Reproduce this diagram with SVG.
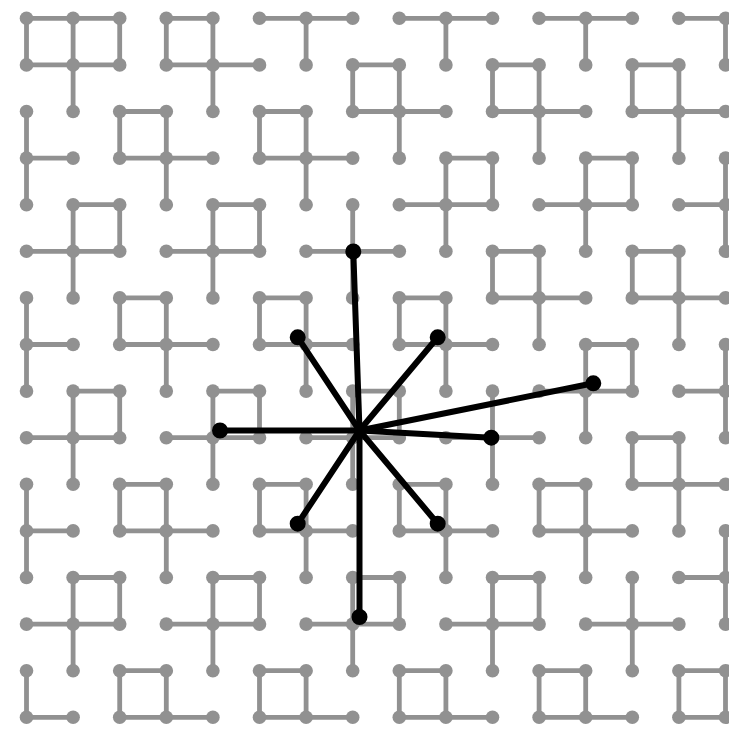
<svg xmlns="http://www.w3.org/2000/svg" width="729" height="732" viewBox="0 0 729 732">
<style>
.e{fill:none;stroke:#919191;stroke-width:4.8;stroke-linecap:round}
.n circle{fill:#919191}
.se{fill:none;stroke:#000;stroke-width:6;stroke-linecap:round}
.sn circle{fill:none;stroke:#000;stroke-width:6}
</style>
<rect width="729" height="732" fill="#fff"/>
<g id="connectors">
<path class="e" d="M26.5 18.3H119.7M166.3 18.3H212.9M259.5 18.3H352.7M399.3 18.3H492.5M539.1 18.3H632.3M678.9 18.3H725.5"/>
<path class="e" d="M26.5 64.9H119.7M166.3 64.9H259.5M352.7 64.9H399.3M492.5 64.9H539.1M632.3 64.9H678.9"/>
<path class="e" d="M119.7 111.5H166.3M259.5 111.5H306.1M352.7 111.5H445.9M492.5 111.5H585.7M632.3 111.5H725.5"/>
<path class="e" d="M26.5 158.1H73.1M119.7 158.1H212.9M259.5 158.1H352.7M445.9 158.1H492.5M585.7 158.1H632.3"/>
<path class="e" d="M73.1 204.7H119.7M212.9 204.7H259.5M399.3 204.7H492.5M539.1 204.7H632.3M678.9 204.7H725.5"/>
<path class="e" d="M26.5 251.3H119.7M166.3 251.3H259.5M306.1 251.3H399.3M492.5 251.3H539.1M632.3 251.3H678.9"/>
<path class="e" d="M119.7 297.9H166.3M259.5 297.9H306.1M399.3 297.9H445.9M492.5 297.9H585.7M632.3 297.9H725.5"/>
<path class="e" d="M26.5 344.5H73.1M119.7 344.5H212.9M259.5 344.5H352.7M399.3 344.5H492.5M585.7 344.5H632.3"/>
<path class="e" d="M73.1 391.1H119.7M212.9 391.1H259.5M352.7 391.1H399.3M539.1 391.1H632.3M678.9 391.1H725.5"/>
<path class="e" d="M26.5 437.7H119.7M166.3 437.7H259.5M306.1 437.7H399.3M445.9 437.7H539.1M632.3 437.7H678.9"/>
<path class="e" d="M119.7 484.3H166.3M259.5 484.3H306.1M399.3 484.3H445.9M539.1 484.3H585.7M632.3 484.3H725.5"/>
<path class="e" d="M26.5 530.9H73.1M119.7 530.9H212.9M259.5 530.9H352.7M399.3 530.9H492.5M539.1 530.9H632.3"/>
<path class="e" d="M73.1 577.5H119.7M212.9 577.5H259.5M352.7 577.5H399.3M492.5 577.5H539.1M678.9 577.5H725.5"/>
<path class="e" d="M26.5 624.1H119.7M166.3 624.1H259.5M306.1 624.1H399.3M445.9 624.1H539.1M585.7 624.1H678.9"/>
<path class="e" d="M119.7 670.7H166.3M259.5 670.7H306.1M399.3 670.7H445.9M539.1 670.7H585.7M678.9 670.7H725.5"/>
<path class="e" d="M26.5 717.3H73.1M119.7 717.3H212.9M259.5 717.3H352.7M399.3 717.3H492.5M539.1 717.3H632.3M678.9 717.3H725.5"/>
<path class="e" d="M26.5 18.3V64.9M26.5 111.5V204.7M26.5 297.9V391.1M26.5 484.3V577.5M26.5 670.7V717.3"/>
<path class="e" d="M73.1 18.3V111.5M73.1 204.7V297.9M73.1 391.1V484.3M73.1 577.5V670.7"/>
<path class="e" d="M119.7 18.3V64.9M119.7 111.5V158.1M119.7 204.7V251.3M119.7 297.9V344.5M119.7 391.1V437.7M119.7 484.3V530.9M119.7 577.5V624.1M119.7 670.7V717.3"/>
<path class="e" d="M166.3 18.3V64.9M166.3 111.5V204.7M166.3 297.9V391.1M166.3 484.3V577.5M166.3 670.7V717.3"/>
<path class="e" d="M212.9 18.3V111.5M212.9 204.7V297.9M212.9 391.1V484.3M212.9 577.5V670.7"/>
<path class="e" d="M259.5 111.5V158.1M259.5 204.7V251.3M259.5 297.9V344.5M259.5 391.1V437.7M259.5 484.3V530.9M259.5 577.5V624.1M259.5 670.7V717.3"/>
<path class="e" d="M306.1 18.3V64.9M306.1 111.5V204.7M306.1 297.9V391.1M306.1 484.3V577.5M306.1 670.7V717.3"/>
<path class="e" d="M352.7 64.9V111.5M352.7 204.7V297.9M352.7 391.1V484.3M352.7 577.5V670.7"/>
<path class="e" d="M399.3 64.9V158.1M399.3 297.9V344.5M399.3 391.1V437.7M399.3 484.3V530.9M399.3 577.5V624.1M399.3 670.7V717.3"/>
<path class="e" d="M445.9 18.3V64.9M445.9 158.1V251.3M445.9 297.9V391.1M445.9 484.3V577.5M445.9 670.7V717.3"/>
<path class="e" d="M492.5 64.9V111.5M492.5 158.1V204.7M492.5 251.3V297.9M492.5 391.1V484.3M492.5 577.5V670.7"/>
<path class="e" d="M539.1 64.9V158.1M539.1 251.3V344.5M539.1 484.3V530.9M539.1 577.5V624.1M539.1 670.7V717.3"/>
<path class="e" d="M585.7 18.3V64.9M585.7 158.1V251.3M585.7 344.5V437.7M585.7 484.3V577.5M585.7 670.7V717.3"/>
<path class="e" d="M632.3 64.9V111.5M632.3 158.1V204.7M632.3 251.3V297.9M632.3 344.5V391.1M632.3 437.7V484.3M632.3 577.5V670.7"/>
<path class="e" d="M678.9 64.9V158.1M678.9 251.3V344.5M678.9 437.7V530.9M678.9 670.7V717.3"/>
<path class="e" d="M725.5 18.3V64.9M725.5 158.1V251.3M725.5 344.5V437.7M725.5 530.9V624.1M725.5 670.7V717.3"/>
</g>
<g id="nodes" class="n">
<g id="n0_0"><circle cx="26.5" cy="18.3" r="6.8"/></g><g id="n1_0"><circle cx="73.1" cy="18.3" r="6.8"/></g><g id="n2_0"><circle cx="119.7" cy="18.3" r="6.8"/></g><g id="n3_0"><circle cx="166.3" cy="18.3" r="6.8"/></g><g id="n4_0"><circle cx="212.9" cy="18.3" r="6.8"/></g><g id="n5_0"><circle cx="259.5" cy="18.3" r="6.8"/></g><g id="n6_0"><circle cx="306.1" cy="18.3" r="6.8"/></g><g id="n7_0"><circle cx="352.7" cy="18.3" r="6.8"/></g><g id="n8_0"><circle cx="399.3" cy="18.3" r="6.8"/></g><g id="n9_0"><circle cx="445.9" cy="18.3" r="6.8"/></g><g id="n10_0"><circle cx="492.5" cy="18.3" r="6.8"/></g><g id="n11_0"><circle cx="539.1" cy="18.3" r="6.8"/></g><g id="n12_0"><circle cx="585.7" cy="18.3" r="6.8"/></g><g id="n13_0"><circle cx="632.3" cy="18.3" r="6.8"/></g><g id="n14_0"><circle cx="678.9" cy="18.3" r="6.8"/></g><g id="n15_0"><circle cx="725.5" cy="18.3" r="6.8"/></g>
<g id="n0_1"><circle cx="26.5" cy="64.9" r="6.8"/></g><g id="n1_1"><circle cx="73.1" cy="64.9" r="6.8"/></g><g id="n2_1"><circle cx="119.7" cy="64.9" r="6.8"/></g><g id="n3_1"><circle cx="166.3" cy="64.9" r="6.8"/></g><g id="n4_1"><circle cx="212.9" cy="64.9" r="6.8"/></g><g id="n5_1"><circle cx="259.5" cy="64.9" r="6.8"/></g><g id="n6_1"><circle cx="306.1" cy="64.9" r="6.8"/></g><g id="n7_1"><circle cx="352.7" cy="64.9" r="6.8"/></g><g id="n8_1"><circle cx="399.3" cy="64.9" r="6.8"/></g><g id="n9_1"><circle cx="445.9" cy="64.9" r="6.8"/></g><g id="n10_1"><circle cx="492.5" cy="64.9" r="6.8"/></g><g id="n11_1"><circle cx="539.1" cy="64.9" r="6.8"/></g><g id="n12_1"><circle cx="585.7" cy="64.9" r="6.8"/></g><g id="n13_1"><circle cx="632.3" cy="64.9" r="6.8"/></g><g id="n14_1"><circle cx="678.9" cy="64.9" r="6.8"/></g><g id="n15_1"><circle cx="725.5" cy="64.9" r="6.8"/></g>
<g id="n0_2"><circle cx="26.5" cy="111.5" r="6.8"/></g><g id="n1_2"><circle cx="73.1" cy="111.5" r="6.8"/></g><g id="n2_2"><circle cx="119.7" cy="111.5" r="6.8"/></g><g id="n3_2"><circle cx="166.3" cy="111.5" r="6.8"/></g><g id="n4_2"><circle cx="212.9" cy="111.5" r="6.8"/></g><g id="n5_2"><circle cx="259.5" cy="111.5" r="6.8"/></g><g id="n6_2"><circle cx="306.1" cy="111.5" r="6.8"/></g><g id="n7_2"><circle cx="352.7" cy="111.5" r="6.8"/></g><g id="n8_2"><circle cx="399.3" cy="111.5" r="6.8"/></g><g id="n9_2"><circle cx="445.9" cy="111.5" r="6.8"/></g><g id="n10_2"><circle cx="492.5" cy="111.5" r="6.8"/></g><g id="n11_2"><circle cx="539.1" cy="111.5" r="6.8"/></g><g id="n12_2"><circle cx="585.7" cy="111.5" r="6.8"/></g><g id="n13_2"><circle cx="632.3" cy="111.5" r="6.8"/></g><g id="n14_2"><circle cx="678.9" cy="111.5" r="6.8"/></g><g id="n15_2"><circle cx="725.5" cy="111.5" r="6.8"/></g>
<g id="n0_3"><circle cx="26.5" cy="158.1" r="6.8"/></g><g id="n1_3"><circle cx="73.1" cy="158.1" r="6.8"/></g><g id="n2_3"><circle cx="119.7" cy="158.1" r="6.8"/></g><g id="n3_3"><circle cx="166.3" cy="158.1" r="6.8"/></g><g id="n4_3"><circle cx="212.9" cy="158.1" r="6.8"/></g><g id="n5_3"><circle cx="259.5" cy="158.1" r="6.8"/></g><g id="n6_3"><circle cx="306.1" cy="158.1" r="6.8"/></g><g id="n7_3"><circle cx="352.7" cy="158.1" r="6.8"/></g><g id="n8_3"><circle cx="399.3" cy="158.1" r="6.8"/></g><g id="n9_3"><circle cx="445.9" cy="158.1" r="6.8"/></g><g id="n10_3"><circle cx="492.5" cy="158.1" r="6.8"/></g><g id="n11_3"><circle cx="539.1" cy="158.1" r="6.8"/></g><g id="n12_3"><circle cx="585.7" cy="158.1" r="6.8"/></g><g id="n13_3"><circle cx="632.3" cy="158.1" r="6.8"/></g><g id="n14_3"><circle cx="678.9" cy="158.1" r="6.8"/></g><g id="n15_3"><circle cx="725.5" cy="158.1" r="6.8"/></g>
<g id="n0_4"><circle cx="26.5" cy="204.7" r="6.8"/></g><g id="n1_4"><circle cx="73.1" cy="204.7" r="6.8"/></g><g id="n2_4"><circle cx="119.7" cy="204.7" r="6.8"/></g><g id="n3_4"><circle cx="166.3" cy="204.7" r="6.8"/></g><g id="n4_4"><circle cx="212.9" cy="204.7" r="6.8"/></g><g id="n5_4"><circle cx="259.5" cy="204.7" r="6.8"/></g><g id="n6_4"><circle cx="306.1" cy="204.7" r="6.8"/></g><g id="n7_4"><circle cx="352.7" cy="204.7" r="6.8"/></g><g id="n8_4"><circle cx="399.3" cy="204.7" r="6.8"/></g><g id="n9_4"><circle cx="445.9" cy="204.7" r="6.8"/></g><g id="n10_4"><circle cx="492.5" cy="204.7" r="6.8"/></g><g id="n11_4"><circle cx="539.1" cy="204.7" r="6.8"/></g><g id="n12_4"><circle cx="585.7" cy="204.7" r="6.8"/></g><g id="n13_4"><circle cx="632.3" cy="204.7" r="6.8"/></g><g id="n14_4"><circle cx="678.9" cy="204.7" r="6.8"/></g><g id="n15_4"><circle cx="725.5" cy="204.7" r="6.8"/></g>
<g id="n0_5"><circle cx="26.5" cy="251.3" r="6.8"/></g><g id="n1_5"><circle cx="73.1" cy="251.3" r="6.8"/></g><g id="n2_5"><circle cx="119.7" cy="251.3" r="6.8"/></g><g id="n3_5"><circle cx="166.3" cy="251.3" r="6.8"/></g><g id="n4_5"><circle cx="212.9" cy="251.3" r="6.8"/></g><g id="n5_5"><circle cx="259.5" cy="251.3" r="6.8"/></g><g id="n6_5"><circle cx="306.1" cy="251.3" r="6.8"/></g><g id="n7_5"><circle cx="352.7" cy="251.3" r="6.8"/></g><g id="n8_5"><circle cx="399.3" cy="251.3" r="6.8"/></g><g id="n9_5"><circle cx="445.9" cy="251.3" r="6.8"/></g><g id="n10_5"><circle cx="492.5" cy="251.3" r="6.8"/></g><g id="n11_5"><circle cx="539.1" cy="251.3" r="6.8"/></g><g id="n12_5"><circle cx="585.7" cy="251.3" r="6.8"/></g><g id="n13_5"><circle cx="632.3" cy="251.3" r="6.8"/></g><g id="n14_5"><circle cx="678.9" cy="251.3" r="6.8"/></g><g id="n15_5"><circle cx="725.5" cy="251.3" r="6.8"/></g>
<g id="n0_6"><circle cx="26.5" cy="297.9" r="6.8"/></g><g id="n1_6"><circle cx="73.1" cy="297.9" r="6.8"/></g><g id="n2_6"><circle cx="119.7" cy="297.9" r="6.8"/></g><g id="n3_6"><circle cx="166.3" cy="297.9" r="6.8"/></g><g id="n4_6"><circle cx="212.9" cy="297.9" r="6.8"/></g><g id="n5_6"><circle cx="259.5" cy="297.9" r="6.8"/></g><g id="n6_6"><circle cx="306.1" cy="297.9" r="6.8"/></g><g id="n7_6"><circle cx="352.7" cy="297.9" r="6.8"/></g><g id="n8_6"><circle cx="399.3" cy="297.9" r="6.8"/></g><g id="n9_6"><circle cx="445.9" cy="297.9" r="6.8"/></g><g id="n10_6"><circle cx="492.5" cy="297.9" r="6.8"/></g><g id="n11_6"><circle cx="539.1" cy="297.9" r="6.8"/></g><g id="n12_6"><circle cx="585.7" cy="297.9" r="6.8"/></g><g id="n13_6"><circle cx="632.3" cy="297.9" r="6.8"/></g><g id="n14_6"><circle cx="678.9" cy="297.9" r="6.8"/></g><g id="n15_6"><circle cx="725.5" cy="297.9" r="6.8"/></g>
<g id="n0_7"><circle cx="26.5" cy="344.5" r="6.8"/></g><g id="n1_7"><circle cx="73.1" cy="344.5" r="6.8"/></g><g id="n2_7"><circle cx="119.7" cy="344.5" r="6.8"/></g><g id="n3_7"><circle cx="166.3" cy="344.5" r="6.8"/></g><g id="n4_7"><circle cx="212.9" cy="344.5" r="6.8"/></g><g id="n5_7"><circle cx="259.5" cy="344.5" r="6.8"/></g><g id="n6_7"><circle cx="306.1" cy="344.5" r="6.8"/></g><g id="n7_7"><circle cx="352.7" cy="344.5" r="6.8"/></g><g id="n8_7"><circle cx="399.3" cy="344.5" r="6.8"/></g><g id="n9_7"><circle cx="445.9" cy="344.5" r="6.8"/></g><g id="n10_7"><circle cx="492.5" cy="344.5" r="6.8"/></g><g id="n11_7"><circle cx="539.1" cy="344.5" r="6.8"/></g><g id="n12_7"><circle cx="585.7" cy="344.5" r="6.8"/></g><g id="n13_7"><circle cx="632.3" cy="344.5" r="6.8"/></g><g id="n14_7"><circle cx="678.9" cy="344.5" r="6.8"/></g><g id="n15_7"><circle cx="725.5" cy="344.5" r="6.8"/></g>
<g id="n0_8"><circle cx="26.5" cy="391.1" r="6.8"/></g><g id="n1_8"><circle cx="73.1" cy="391.1" r="6.8"/></g><g id="n2_8"><circle cx="119.7" cy="391.1" r="6.8"/></g><g id="n3_8"><circle cx="166.3" cy="391.1" r="6.8"/></g><g id="n4_8"><circle cx="212.9" cy="391.1" r="6.8"/></g><g id="n5_8"><circle cx="259.5" cy="391.1" r="6.8"/></g><g id="n6_8"><circle cx="306.1" cy="391.1" r="6.8"/></g><g id="n7_8"><circle cx="352.7" cy="391.1" r="6.8"/></g><g id="n8_8"><circle cx="399.3" cy="391.1" r="6.8"/></g><g id="n9_8"><circle cx="445.9" cy="391.1" r="6.8"/></g><g id="n10_8"><circle cx="492.5" cy="391.1" r="6.8"/></g><g id="n11_8"><circle cx="539.1" cy="391.1" r="6.8"/></g><g id="n12_8"><circle cx="585.7" cy="391.1" r="6.8"/></g><g id="n13_8"><circle cx="632.3" cy="391.1" r="6.8"/></g><g id="n14_8"><circle cx="678.9" cy="391.1" r="6.8"/></g><g id="n15_8"><circle cx="725.5" cy="391.1" r="6.8"/></g>
<g id="n0_9"><circle cx="26.5" cy="437.7" r="6.8"/></g><g id="n1_9"><circle cx="73.1" cy="437.7" r="6.8"/></g><g id="n2_9"><circle cx="119.7" cy="437.7" r="6.8"/></g><g id="n3_9"><circle cx="166.3" cy="437.7" r="6.8"/></g><g id="n4_9"><circle cx="212.9" cy="437.7" r="6.8"/></g><g id="n5_9"><circle cx="259.5" cy="437.7" r="6.8"/></g><g id="n6_9"><circle cx="306.1" cy="437.7" r="6.8"/></g><g id="n7_9"><circle cx="352.7" cy="437.7" r="6.8"/></g><g id="n8_9"><circle cx="399.3" cy="437.7" r="6.8"/></g><g id="n9_9"><circle cx="445.9" cy="437.7" r="6.8"/></g><g id="n10_9"><circle cx="492.5" cy="437.7" r="6.8"/></g><g id="n11_9"><circle cx="539.1" cy="437.7" r="6.8"/></g><g id="n12_9"><circle cx="585.7" cy="437.7" r="6.8"/></g><g id="n13_9"><circle cx="632.3" cy="437.7" r="6.8"/></g><g id="n14_9"><circle cx="678.9" cy="437.7" r="6.8"/></g><g id="n15_9"><circle cx="725.5" cy="437.7" r="6.8"/></g>
<g id="n0_10"><circle cx="26.5" cy="484.3" r="6.8"/></g><g id="n1_10"><circle cx="73.1" cy="484.3" r="6.8"/></g><g id="n2_10"><circle cx="119.7" cy="484.3" r="6.8"/></g><g id="n3_10"><circle cx="166.3" cy="484.3" r="6.8"/></g><g id="n4_10"><circle cx="212.9" cy="484.3" r="6.8"/></g><g id="n5_10"><circle cx="259.5" cy="484.3" r="6.8"/></g><g id="n6_10"><circle cx="306.1" cy="484.3" r="6.8"/></g><g id="n7_10"><circle cx="352.7" cy="484.3" r="6.8"/></g><g id="n8_10"><circle cx="399.3" cy="484.3" r="6.8"/></g><g id="n9_10"><circle cx="445.9" cy="484.3" r="6.8"/></g><g id="n10_10"><circle cx="492.5" cy="484.3" r="6.8"/></g><g id="n11_10"><circle cx="539.1" cy="484.3" r="6.8"/></g><g id="n12_10"><circle cx="585.7" cy="484.3" r="6.8"/></g><g id="n13_10"><circle cx="632.3" cy="484.3" r="6.8"/></g><g id="n14_10"><circle cx="678.9" cy="484.3" r="6.8"/></g><g id="n15_10"><circle cx="725.5" cy="484.3" r="6.8"/></g>
<g id="n0_11"><circle cx="26.5" cy="530.9" r="6.8"/></g><g id="n1_11"><circle cx="73.1" cy="530.9" r="6.8"/></g><g id="n2_11"><circle cx="119.7" cy="530.9" r="6.8"/></g><g id="n3_11"><circle cx="166.3" cy="530.9" r="6.8"/></g><g id="n4_11"><circle cx="212.9" cy="530.9" r="6.8"/></g><g id="n5_11"><circle cx="259.5" cy="530.9" r="6.8"/></g><g id="n6_11"><circle cx="306.1" cy="530.9" r="6.8"/></g><g id="n7_11"><circle cx="352.7" cy="530.9" r="6.8"/></g><g id="n8_11"><circle cx="399.3" cy="530.9" r="6.8"/></g><g id="n9_11"><circle cx="445.9" cy="530.9" r="6.8"/></g><g id="n10_11"><circle cx="492.5" cy="530.9" r="6.8"/></g><g id="n11_11"><circle cx="539.1" cy="530.9" r="6.8"/></g><g id="n12_11"><circle cx="585.7" cy="530.9" r="6.8"/></g><g id="n13_11"><circle cx="632.3" cy="530.9" r="6.8"/></g><g id="n14_11"><circle cx="678.9" cy="530.9" r="6.8"/></g><g id="n15_11"><circle cx="725.5" cy="530.9" r="6.8"/></g>
<g id="n0_12"><circle cx="26.5" cy="577.5" r="6.8"/></g><g id="n1_12"><circle cx="73.1" cy="577.5" r="6.8"/></g><g id="n2_12"><circle cx="119.7" cy="577.5" r="6.8"/></g><g id="n3_12"><circle cx="166.3" cy="577.5" r="6.8"/></g><g id="n4_12"><circle cx="212.9" cy="577.5" r="6.8"/></g><g id="n5_12"><circle cx="259.5" cy="577.5" r="6.8"/></g><g id="n6_12"><circle cx="306.1" cy="577.5" r="6.8"/></g><g id="n7_12"><circle cx="352.7" cy="577.5" r="6.8"/></g><g id="n8_12"><circle cx="399.3" cy="577.5" r="6.8"/></g><g id="n9_12"><circle cx="445.9" cy="577.5" r="6.8"/></g><g id="n10_12"><circle cx="492.5" cy="577.5" r="6.8"/></g><g id="n11_12"><circle cx="539.1" cy="577.5" r="6.8"/></g><g id="n12_12"><circle cx="585.7" cy="577.5" r="6.8"/></g><g id="n13_12"><circle cx="632.3" cy="577.5" r="6.8"/></g><g id="n14_12"><circle cx="678.9" cy="577.5" r="6.8"/></g><g id="n15_12"><circle cx="725.5" cy="577.5" r="6.8"/></g>
<g id="n0_13"><circle cx="26.5" cy="624.1" r="6.8"/></g><g id="n1_13"><circle cx="73.1" cy="624.1" r="6.8"/></g><g id="n2_13"><circle cx="119.7" cy="624.1" r="6.8"/></g><g id="n3_13"><circle cx="166.3" cy="624.1" r="6.8"/></g><g id="n4_13"><circle cx="212.9" cy="624.1" r="6.8"/></g><g id="n5_13"><circle cx="259.5" cy="624.1" r="6.8"/></g><g id="n6_13"><circle cx="306.1" cy="624.1" r="6.8"/></g><g id="n7_13"><circle cx="352.7" cy="624.1" r="6.8"/></g><g id="n8_13"><circle cx="399.3" cy="624.1" r="6.8"/></g><g id="n9_13"><circle cx="445.9" cy="624.1" r="6.8"/></g><g id="n10_13"><circle cx="492.5" cy="624.1" r="6.8"/></g><g id="n11_13"><circle cx="539.1" cy="624.1" r="6.8"/></g><g id="n12_13"><circle cx="585.7" cy="624.1" r="6.8"/></g><g id="n13_13"><circle cx="632.3" cy="624.1" r="6.8"/></g><g id="n14_13"><circle cx="678.9" cy="624.1" r="6.8"/></g><g id="n15_13"><circle cx="725.5" cy="624.1" r="6.8"/></g>
<g id="n0_14"><circle cx="26.5" cy="670.7" r="6.8"/></g><g id="n1_14"><circle cx="73.1" cy="670.7" r="6.8"/></g><g id="n2_14"><circle cx="119.7" cy="670.7" r="6.8"/></g><g id="n3_14"><circle cx="166.3" cy="670.7" r="6.8"/></g><g id="n4_14"><circle cx="212.9" cy="670.7" r="6.8"/></g><g id="n5_14"><circle cx="259.5" cy="670.7" r="6.8"/></g><g id="n6_14"><circle cx="306.1" cy="670.7" r="6.8"/></g><g id="n7_14"><circle cx="352.7" cy="670.7" r="6.8"/></g><g id="n8_14"><circle cx="399.3" cy="670.7" r="6.8"/></g><g id="n9_14"><circle cx="445.9" cy="670.7" r="6.8"/></g><g id="n10_14"><circle cx="492.5" cy="670.7" r="6.8"/></g><g id="n11_14"><circle cx="539.1" cy="670.7" r="6.8"/></g><g id="n12_14"><circle cx="585.7" cy="670.7" r="6.8"/></g><g id="n13_14"><circle cx="632.3" cy="670.7" r="6.8"/></g><g id="n14_14"><circle cx="678.9" cy="670.7" r="6.8"/></g><g id="n15_14"><circle cx="725.5" cy="670.7" r="6.8"/></g>
<g id="n0_15"><circle cx="26.5" cy="717.3" r="6.8"/></g><g id="n1_15"><circle cx="73.1" cy="717.3" r="6.8"/></g><g id="n2_15"><circle cx="119.7" cy="717.3" r="6.8"/></g><g id="n3_15"><circle cx="166.3" cy="717.3" r="6.8"/></g><g id="n4_15"><circle cx="212.9" cy="717.3" r="6.8"/></g><g id="n5_15"><circle cx="259.5" cy="717.3" r="6.8"/></g><g id="n6_15"><circle cx="306.1" cy="717.3" r="6.8"/></g><g id="n7_15"><circle cx="352.7" cy="717.3" r="6.8"/></g><g id="n8_15"><circle cx="399.3" cy="717.3" r="6.8"/></g><g id="n9_15"><circle cx="445.9" cy="717.3" r="6.8"/></g><g id="n10_15"><circle cx="492.5" cy="717.3" r="6.8"/></g><g id="n11_15"><circle cx="539.1" cy="717.3" r="6.8"/></g><g id="n12_15"><circle cx="585.7" cy="717.3" r="6.8"/></g><g id="n13_15"><circle cx="632.3" cy="717.3" r="6.8"/></g><g id="n14_15"><circle cx="678.9" cy="717.3" r="6.8"/></g><g id="n15_15"><circle cx="725.5" cy="717.3" r="6.8"/></g>
</g>
<g id="star-connectors">
<path class="se" d="M359.5 430.5L353.3 251.5"/>
<path class="se" d="M359.5 430.5L297.7 337.3"/>
<path class="se" d="M359.5 430.5L437.7 337.3"/>
<path class="se" d="M359.5 430.5L220 430.5"/>
<path class="se" d="M359.5 430.5L491.3 437.7"/>
<path class="se" d="M359.5 430.5L593.3 383.3"/>
<path class="se" d="M359.5 430.5L297.7 523.7"/>
<path class="se" d="M359.5 430.5L437.7 523.7"/>
<path class="se" d="M359.5 430.5L359.5 617"/>
</g>
<g id="star-nodes" class="sn">
<g id="s-center"><circle cx="359.5" cy="430.5" r="0.5"/></g>
<g id="s-top"><circle cx="353.3" cy="251.5" r="5"/></g>
<g id="s-ul"><circle cx="297.7" cy="337.3" r="5"/></g>
<g id="s-ur"><circle cx="437.7" cy="337.3" r="5"/></g>
<g id="s-left"><circle cx="220" cy="430.5" r="5"/></g>
<g id="s-right"><circle cx="491.3" cy="437.7" r="5"/></g>
<g id="s-far"><circle cx="593.3" cy="383.3" r="5"/></g>
<g id="s-bl"><circle cx="297.7" cy="523.7" r="5"/></g>
<g id="s-br"><circle cx="437.7" cy="523.7" r="5"/></g>
<g id="s-bottom"><circle cx="359.5" cy="617" r="5"/></g>
</g>
</svg>
